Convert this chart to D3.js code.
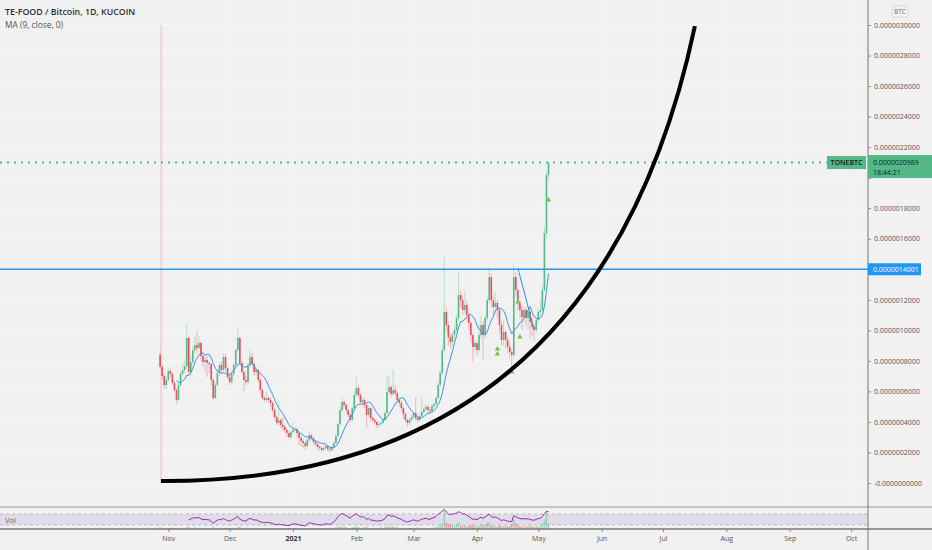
<!DOCTYPE html>
<html>
<head>
<meta charset="utf-8">
<script src="https://cdnjs.cloudflare.com/ajax/libs/d3/7.8.5/d3.min.js"></script>
<style>
  html, body { margin: 0; padding: 0; background: #f1f1f1; overflow: hidden; }
  svg { display: block; font-family: "Open Sans", sans-serif; }
</style>
</head>
<body>
<div id="container"></div>
<script>
/* CONSTANTS AND GLOBALS */
const width = 932, height = 550;
const axisX = 868,        // left edge of the price scale
  mainBottom = 507,       // bottom of the price pane
  volBottom = 529;        // bottom of the volume pane / top of time axis

const upColor = "#53b987", downColor = "#eb4d5c", blue = "#2196f3";

// prices are kept in units of 1e-9 BTC
const UNIT = 1e-9;
const firstDay = Date.UTC(2020, 9, 28);   // first daily candle
const firstOpen = 838;

const closes = [760,701,642,675,733,714,655,609,544,642,
  714,740,766,950,727,792,871,904,884,917,
  832,792,806,786,779,675,557,642,720,773,
  740,825,753,694,661,714,773,871,950,786,
  727,675,661,773,825,779,727,740,675,609,
  557,544,557,544,524,478,432,393,413,380,
  367,347,327,301,334,347,354,327,295,275,
  262,242,282,314,295,269,255,236,229,216,
  229,242,223,216,236,262,308,386,478,530,
  511,478,445,413,491,576,622,576,530,544,
  511,445,491,426,413,399,380,386,393,413,
  458,596,629,583,609,589,544,524,491,452,
  413,393,413,432,458,426,413,439,465,485,
  498,478,472,504,517,557,642,720,871,1120,
  1035,956,923,969,1002,1081,1231,1198,1133,1166,
  1100,1048,969,891,917,871,969,1035,969,1081,
  1198,1349,1198,1153,1179,1133,1035,937,989,937,
  891,858,838,1349,1264,1179,1133,1087,1133,1081,
  1120,1054,1022,1002,1067,1120,1133,1264,1637,2017,
  2099];

const highs = [860,775,720,700,760,750,725,670,620,665,
  730,790,800,1035,965,830,900,960,1000,960,
  930,850,840,830,800,790,690,660,740,790,
  800,850,840,770,720,730,790,880,1015,960,
  800,740,700,790,871,850,790,760,750,690,
  620,570,600,570,560,535,490,440,540,425,
  432,380,360,340,345,400,370,360,335,310,
  290,270,300,340,320,300,280,265,250,240,
  245,255,250,235,250,275,320,400,500,560,
  545,520,485,455,500,600,694,640,590,560,
  560,520,510,500,440,425,410,400,410,425,
  470,700,700,640,740,640,600,560,540,500,
  465,420,430,450,470,560,440,450,560,500,
  520,510,495,520,530,570,660,740,900,1490,
  1150,1060,980,990,1030,1100,1380,1260,1220,1260,
  1200,1120,1060,980,940,930,1040,1100,1060,1100,
  1220,1408,1370,1230,1250,1200,1150,1060,1060,1010,
  960,920,880,1428,1380,1280,1200,1160,1150,1150,
  1140,1130,1080,1040,1090,1140,1200,1300,1680,2040,
  2099];

const lows = [740,680,620,615,660,690,640,590,520,535,
  630,700,720,750,700,700,780,850,860,870,
  800,760,720,694,720,640,540,550,630,700,
  720,730,730,680,640,650,700,760,860,770,
  710,596,640,650,760,760,700,710,660,590,
  540,530,530,530,500,460,420,380,380,360,
  340,330,300,285,290,320,330,300,250,240,
  230,215,235,270,280,250,240,220,210,200,
  205,220,205,200,205,225,255,300,375,465,
  490,460,430,395,405,480,565,560,510,500,
  490,360,430,400,395,380,360,365,375,385,
  405,450,580,560,570,570,520,500,470,420,
  395,370,380,400,420,410,395,405,430,450,
  470,455,455,460,495,505,545,630,700,860,
  990,900,880,900,950,990,1060,1150,1100,1110,
  1060,1000,920,792,860,830,850,950,805,950,
  1060,1180,1150,1100,1120,1080,980,900,900,880,
  850,820,727,820,1220,1130,1080,1000,1050,1030,
  1000,950,960,930,980,1050,1090,1120,1250,1600,
  1990];

// volume, relative units
const volumes = [2,1,1,1,1,1,1,1,1,1,
  1,1,1,2,2,1,1,2,1,1,
  1,1,1,1,1,1,2,1,1,1,
  1,1,1,1,1,1,1,1,2,2,
  1,1,1,1,1,1,1,1,1,1,
  1,1,1,1,1,1,1,1,1,1,
  1,1,1,1,1,1,1,1,1,1,
  1,1,1,1,1,1,1,1,1,1,
  1,1,1,1,1,1,2,2,3,2,
  2,2,1,1,2,2,3,2,1,1,
  2,2,1,1,1,1,1,1,2,1,
  2,3,3,2,3,2,2,1,1,1,
  1,1,1,1,1,1,2,1,1,1,
  1,1,1,1,2,2,3,4,6,19,
  7,6,5,4,4,5,7,4,3,4,
  3,3,4,5,3,3,4,5,4,5,
  6,7,4,3,3,3,4,3,3,3,
  3,3,5,10,6,4,3,3,2,3,
  3,3,3,2,3,3,3,5,9,19,
  6];

// price scale ticks (the 14000 and 20000 labels sit under the price tags)
const yTickValues = [0,200,400,600,800,1000,1200,1400,1600,1800,2000,2200,2400,2600,2800,3000];
const yTickLabels = ["-0.0000000000","0.0000002000","0.0000004000","0.0000006000","0.0000008000",
  "0.0000010000","0.0000012000","","0.0000016000","0.0000018000","",
  "0.0000022000","0.0000024000","0.0000026000","0.0000028000","0.0000030000"];

// time scale ticks
const monthDates = [[2020,10],[2020,11],[2021,0],[2021,1],[2021,2],[2021,3],[2021,4],
  [2021,5],[2021,6],[2021,7],[2021,8],[2021,9]].map(d => Date.UTC(d[0], d[1], 1));
const monthLabels = ["Nov","Dec","2021","Feb","Mar","Apr","May","Jun","Jul","Aug","Sep","Oct"];

// hand drawn curve (start, control, end): days after first candle, price
const curveDays = [0.4, 214.2, 261.6];
const curvePrices = [13, 0, 2993];

// short descending trend line (candle index, price)
const trendIdx = [175, 183];
const trendPrices = [1408, 1002];

// green signal arrows (candle index, price)
const markerIdx = [165, 165, 172, 175, 176, 190];
const markerPrices = [878, 845, 727, 1186, 956, 1854];

const lastPrice = 2099, levelPrice = 1400.1;

/* BUILD CANDLES */
const dayMs = 86400000;
const candles = closes.map((c, i) => ({
  date: firstDay + i * dayMs,
  open: i === 0 ? firstOpen : closes[i - 1],
  close: c,
  high: highs[i],
  low: lows[i],
  vol: volumes[i]
}));

// MA (9, close)
const ma = candles.map((d, i) => i < 8 ? null : d3.mean(closes.slice(i - 8, i + 1)));

// RSI (14) for the lower pane
function rsi(values, len) {
  const out = values.map(() => null);
  let gain = 0, loss = 0;
  for (let i = 1; i < values.length; i++) {
    const ch = values[i] - values[i - 1];
    const g = Math.max(ch, 0), l = Math.max(-ch, 0);
    if (i <= len) {
      gain += g / len; loss += l / len;
      if (i < len) continue;
    } else {
      gain = (gain * (len - 1) + g) / len;
      loss = (loss * (len - 1) + l) / len;
    }
    out[i] = loss === 0 ? 100 : 100 - 100 / (1 + gain / loss);
  }
  return out;
}
const rsiValues = rsi(closes, 14);

/* SCALES */
const xScale = d3.scaleUtc()
  .domain([Date.UTC(2020, 10, 1), Date.UTC(2021, 4, 1)])
  .range([168.3, 538.3]);

const yScale = d3.scaleLinear()
  .domain([0, 3000])
  .range([483, 25]);

const volScale = d3.scaleLinear().domain([0, 20]).range([volBottom, 510]);
const rsiScale = d3.scaleLinear().domain([0, 100]).range([533.25, 505.75]);

/* SVG */
const svg = d3.select("#container")
  .append("svg")
  .attr("width", width)
  .attr("height", height);

svg.append("rect").attr("width", width).attr("height", height).attr("fill", "#f1f1f1");

svg.append("clipPath").attr("id", "main")
  .append("rect").attr("width", axisX).attr("height", mainBottom);
svg.append("clipPath").attr("id", "vol")
  .append("rect").attr("y", mainBottom).attr("width", axisX).attr("height", volBottom - mainBottom);

const main = svg.append("g").attr("clip-path", "url(#main)");
const volPane = svg.append("g").attr("clip-path", "url(#vol)");

// faint grid
main.selectAll("line.hgrid")
  .data(yTickValues)
  .join("line")
  .attr("class", "hgrid")
  .attr("x1", 0).attr("x2", axisX)
  .attr("y1", d => yScale(d)).attr("y2", d => yScale(d))
  .attr("stroke", "#f6f6f6");

main.selectAll("line.vgrid")
  .data(monthDates)
  .join("line")
  .attr("class", "vgrid")
  .attr("x1", d => xScale(d)).attr("x2", d => xScale(d))
  .attr("y1", 0).attr("y2", mainBottom)
  .attr("stroke", "#f6f6f6");

// pink vertical line at the first candle
main.append("line")
  .attr("x1", xScale(firstDay) + 1).attr("x2", xScale(firstDay) + 1)
  .attr("y1", yScale(3000)).attr("y2", yScale(0) - 1)
  .attr("stroke", "#f6b8c4")
  .attr("stroke-width", 1);

// horizontal level + dotted last price line
main.append("line")
  .attr("x1", 0).attr("x2", axisX)
  .attr("y1", yScale(levelPrice)).attr("y2", yScale(levelPrice))
  .attr("stroke", blue).attr("stroke-width", 1.5);

main.append("line")
  .attr("x1", 0).attr("x2", 827)
  .attr("y1", yScale(lastPrice)).attr("y2", yScale(lastPrice))
  .attr("stroke", upColor).attr("stroke-width", 2)
  .attr("stroke-dasharray", "2,5");

// candles
const cx = d => xScale(d.date);
const candleG = main.selectAll("g.candle")
  .data(candles)
  .join("g")
  .attr("class", "candle");

candleG.append("line")
  .attr("x1", cx).attr("x2", cx)
  .attr("y1", d => yScale(d.high)).attr("y2", d => yScale(d.low))
  .attr("stroke", d => d.close >= d.open ? upColor : downColor)
  .attr("stroke-opacity", 0.45)
  .attr("stroke-width", 0.8);

candleG.append("rect")
  .attr("x", d => cx(d) - 0.8)
  .attr("width", 1.6)
  .attr("y", d => yScale(Math.max(d.open, d.close)))
  .attr("height", d => Math.max(1, Math.abs(yScale(d.open) - yScale(d.close))))
  .attr("fill", d => d.close >= d.open ? upColor : downColor);

// moving average
main.append("path")
  .datum(candles.map((d, i) => ({ date: d.date, v: ma[i] })).filter(d => d.v !== null))
  .attr("fill", "none")
  .attr("stroke", "#3b94e6")
  .attr("stroke-width", 1)
  .attr("d", d3.line().x(d => xScale(d.date)).y(d => yScale(d.v)));

// trend line
main.append("line")
  .attr("x1", xScale(firstDay + trendIdx[0] * dayMs)).attr("y1", yScale(trendPrices[0]))
  .attr("x2", xScale(firstDay + trendIdx[1] * dayMs)).attr("y2", yScale(trendPrices[1]))
  .attr("stroke", blue).attr("stroke-width", 1);

// arrows
main.selectAll("path.arrow")
  .data(markerIdx.map((d, i) => ({ date: firstDay + d * dayMs, p: markerPrices[i] })))
  .join("path")
  .attr("class", "arrow")
  .attr("d", d3.symbol(d3.symbolTriangle).size(12))
  .attr("transform", d => `translate(${xScale(d.date)},${yScale(d.p)})`)
  .attr("fill", "#6cc24a");

// the big black curve (quadratic: start, control, end)
const cp = curveDays.map((d, i) => [xScale(firstDay + d * dayMs), yScale(curvePrices[i])]);
const curvePath = d3.path();
curvePath.moveTo(cp[0][0], cp[0][1]);
curvePath.quadraticCurveTo(cp[1][0], cp[1][1], cp[2][0], cp[2][1]);
main.append("path")
  .attr("fill", "none")
  .attr("stroke", "#000")
  .attr("stroke-width", 4)
  .attr("d", curvePath.toString());

// legend
svg.append("text").attr("x", 5).attr("y", 15)
  .attr("font-size", 8.8).attr("font-weight", 600).attr("fill", "#333")
  .text("TE-FOOD / Bitcoin, 1D, KUCOIN");
svg.append("text").attr("x", 5).attr("y", 28)
  .attr("font-size", 8.4).attr("fill", "#555")
  .text("MA (9, close, 0)");

/* VOLUME PANE */
volPane.append("rect")
  .attr("x", 0).attr("width", axisX)
  .attr("y", rsiScale(70)).attr("height", rsiScale(30) - rsiScale(70))
  .attr("fill", "#7e57c2").attr("fill-opacity", 0.13);

volPane.selectAll("line.band")
  .data([70, 30])
  .join("line")
  .attr("class", "band")
  .attr("x1", 0).attr("x2", axisX)
  .attr("y1", d => rsiScale(d)).attr("y2", d => rsiScale(d))
  .attr("stroke", "#aaa").attr("stroke-width", 0.7)
  .attr("stroke-dasharray", "3,3");

volPane.selectAll("rect.vol")
  .data(candles)
  .join("rect")
  .attr("class", "vol")
  .attr("x", d => cx(d) - 0.75)
  .attr("width", 1.5)
  .attr("y", d => volScale(d.vol))
  .attr("height", d => volBottom - volScale(d.vol))
  .attr("fill", d => d.close >= d.open ? upColor : downColor)
  .attr("fill-opacity", 0.5);

volPane.append("path")
  .datum(candles.map((d, i) => ({ date: d.date, v: rsiValues[i] })).filter(d => d.v !== null))
  .attr("fill", "none")
  .attr("stroke", "#9c27b0")
  .attr("stroke-width", 1)
  .attr("d", d3.line().x(d => xScale(d.date)).y(d => rsiScale(d.v)));

svg.append("text").attr("x", 5).attr("y", 523)
  .attr("font-size", 7.5).attr("fill", "#666").text("Vol");

/* PANE BORDERS */
svg.append("line").attr("x1", 0).attr("x2", width).attr("y1", mainBottom).attr("y2", mainBottom)
  .attr("stroke", "#9a9a9a").attr("stroke-width", 1);
svg.append("line").attr("x1", 0).attr("x2", width).attr("y1", volBottom).attr("y2", volBottom)
  .attr("stroke", "#777").attr("stroke-width", 1.5);
svg.append("line").attr("x1", axisX).attr("x2", axisX).attr("y1", 0).attr("y2", height)
  .attr("stroke", "#777").attr("stroke-width", 1);

/* AXES */
const yAxis = d3.axisRight(yScale)
  .tickValues(yTickValues)
  .tickFormat((d, i) => yTickLabels[i])
  .tickSize(3)
  .tickPadding(3);

const yAxisG = svg.append("g")
  .attr("transform", `translate(${axisX},0)`)
  .call(yAxis);

const xAxis = d3.axisBottom(xScale)
  .tickValues(monthDates)
  .tickFormat((d, i) => monthLabels[i])
  .tickSize(3)
  .tickPadding(4);

const xAxisG = svg.append("g")
  .attr("transform", `translate(0,${volBottom})`)
  .call(xAxis);

[yAxisG, xAxisG].forEach(g => {
  g.select(".domain").remove();
  g.selectAll(".tick line").attr("stroke", "#888");
  g.selectAll(".tick text")
    .attr("font-family", "'Open Sans', sans-serif")
    .attr("font-size", 7)
    .attr("fill", "#555");
});
xAxisG.selectAll(".tick text")
  .attr("font-weight", (d, i) => monthLabels[i] === "2021" ? 700 : 400)
  .attr("fill", (d, i) => monthLabels[i] === "2021" ? "#333" : "#555");

// "BTC" unit box
svg.append("rect").attr("x", 892).attr("y", 6).attr("width", 16).attr("height", 11).attr("rx", 2)
  .attr("fill", "#f4f4f4").attr("stroke", "#d6d6d6");
svg.append("text").attr("x", 900).attr("y", 14).attr("text-anchor", "middle")
  .attr("font-size", 6.5).attr("fill", "#666").text("BTC");

/* PRICE LABELS */
// blue level label
const levelY = yScale(levelPrice);
svg.append("rect").attr("x", axisX).attr("y", levelY - 6).attr("width", 53).attr("height", 12)
  .attr("fill", blue);
svg.append("text").attr("x", axisX + 5).attr("y", levelY + 2.5)
  .attr("font-size", 7).attr("fill", "#fff").text("0.0000014001");

// last price label + symbol tag
const lastY = yScale(lastPrice);
svg.append("rect").attr("x", axisX).attr("y", lastY - 7.5).attr("width", width - axisX).attr("height", 23)
  .attr("fill", upColor);
svg.append("text").attr("x", axisX + 5).attr("y", lastY + 2.5)
  .attr("font-size", 7).attr("fill", "#131722").text("0.0000020989");
svg.append("text").attr("x", axisX + 5).attr("y", lastY + 12)
  .attr("font-size", 7).attr("fill", "#131722").text("18:44:21");

svg.append("rect").attr("x", 827).attr("y", lastY - 6.5).attr("width", 39).attr("height", 13)
  .attr("fill", upColor);
svg.append("text").attr("x", 846.5).attr("y", lastY + 2.5).attr("text-anchor", "middle")
  .attr("font-size", 7).attr("font-weight", 600).attr("fill", "#131722").text("TONEBTC");
</script>
</body>
</html>
